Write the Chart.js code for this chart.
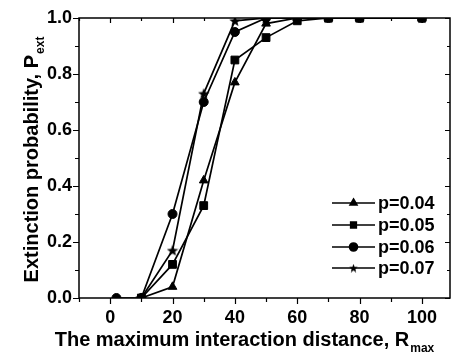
<!DOCTYPE html>
<html>
<head>
<meta charset="utf-8">
<script src="https://cdn.jsdelivr.net/npm/chart.js@4/dist/chart.umd.min.js"></script>
<style>
  html, body { margin: 0; padding: 0; background: #fff; }
  #wrap { width: 457px; height: 356px; }
</style>
</head>
<body>
<div id="wrap"><canvas id="chart"></canvas></div>
<script>
// data
let rValues = [10, 20, 30, 40, 50, 60, 70, 80, 100];
let rCircle = [2, 10, 20, 30, 40, 50, 60, 70, 80, 100];
let p004 = [0, 0.04, 0.42, 0.77, 0.98, 1.0, 1.0, 1.0, 1.0];
let p005 = [0, 0.12, 0.33, 0.85, 0.93, 0.99, 1.0, 1.0, 1.0];
let p006 = [0, 0, 0.30, 0.70, 0.95, 1.0, 1.0, 1.0, 1.0, 1.0];
let p007 = [0, 0.17, 0.73, 0.99, 1.0, 1.0, 1.0, 1.0, 1.0];
let labels = ['p=0.04', 'p=0.05', 'p=0.06', 'p=0.07'];

let xTicks = [0, 20, 40, 60, 80, 100];
let xMinor = [-10, 10, 30, 50, 70, 90];
let yTicks = [0, 0.2, 0.4, 0.6, 0.8, 1.0];
let yMinor = [0.1, 0.3, 0.5, 0.7, 0.9];

const FONT = "'Liberation Sans', Arial, sans-serif";

// filled five point star for p=0.07
function makeStar(size) {
  let c = document.createElement('canvas');
  c.width = size; c.height = size;
  let g = c.getContext('2d');
  let cx = size / 2, cy = size / 2 + 0.5, ro = size / 2, ri = size / 4.6;
  g.beginPath();
  for (let i = 0; i < 10; i++) {
    let r = i % 2 ? ri : ro;
    let a = -Math.PI / 2 + i * Math.PI / 5;
    g.lineTo(cx + r * Math.cos(a), cy + r * Math.sin(a));
  }
  g.closePath();
  g.fillStyle = '#000';
  g.fill();
  return c;
}
let starBig = makeStar(12);
let starSmall = makeStar(9);

function pairs(xs, ys) {
  return xs.map((x, i) => ({x: x, y: ys[i]}));
}

function series(label, xs, ys, style, radius, order) {
  return {
    label: label,
    data: pairs(xs, ys),
    borderColor: '#000',
    backgroundColor: '#000',
    borderWidth: 1.7,
    pointStyle: style,
    pointRadius: radius,
    pointBorderWidth: 1,
    pointBackgroundColor: '#000',
    pointBorderColor: '#000',
    tension: 0,
    order: order
  };
}

function drawSub(ctx, main, sub, x, y, size) {
  ctx.font = 'bold ' + size + 'px ' + FONT;
  let w1 = ctx.measureText(main).width;
  ctx.font = 'bold ' + Math.round(size * 0.6) + 'px ' + FONT;
  let w2 = ctx.measureText(sub).width;
  let start = x - (w1 + w2) / 2;
  ctx.textAlign = 'left';
  ctx.textBaseline = 'alphabetic';
  ctx.font = 'bold ' + size + 'px ' + FONT;
  ctx.fillText(main, start, y);
  ctx.font = 'bold ' + Math.round(size * 0.6) + 'px ' + FONT;
  ctx.fillText(sub, start + w1 + 1, y + size * 0.3);
}

let framePlugin = {
  id: 'frame',
  beforeDatasetsDraw(chart) {
    let ctx = chart.ctx;
    let a = chart.chartArea;
    let xs = chart.scales.x, ys = chart.scales.y;
    ctx.save();
    ctx.strokeStyle = '#000';
    ctx.lineWidth = 1.5;
    ctx.strokeRect(a.left, a.top, a.right - a.left, a.bottom - a.top);
    ctx.lineWidth = 1.2;
    ctx.beginPath();
    xTicks.concat(xMinor).forEach(v => {
      let px = Math.round(xs.getPixelForValue(v)) + 0.5;
      let len = xTicks.includes(v) ? 6 : 4;
      ctx.moveTo(px, a.bottom); ctx.lineTo(px, a.bottom + len);
      ctx.moveTo(px, a.top); ctx.lineTo(px, a.top + len - 1);
    });
    yTicks.concat(yMinor).forEach(v => {
      let py = Math.round(ys.getPixelForValue(v)) + 0.5;
      let len = yTicks.includes(v) ? 6 : 4;
      ctx.moveTo(a.left, py); ctx.lineTo(a.left - len, py);
      ctx.moveTo(a.right, py); ctx.lineTo(a.right - len + 1, py);
    });
    ctx.stroke();
    ctx.restore();
  },
  afterDraw(chart) {
    let ctx = chart.ctx;
    ctx.save();
    ctx.fillStyle = '#000';
    // axis titles
    drawSub(ctx, 'The maximum interaction distance, R', 'max', 244, 346, 20);
    ctx.translate(38, 160);
    ctx.rotate(-Math.PI / 2);
    drawSub(ctx, 'Extinction probability, P', 'ext', 0, 0, 20);
    ctx.restore();

    // legend: line with marker, then label
    ctx.save();
    ctx.strokeStyle = '#000';
    ctx.fillStyle = '#000';
    let rows = [203, 225, 247, 268];
    chart.data.datasets.forEach((ds, i) => {
      let y = rows[i];
      ctx.lineWidth = 1.6;
      ctx.beginPath();
      ctx.moveTo(332, y); ctx.lineTo(375, y);
      ctx.stroke();
      let style = ds.pointStyle === starBig ? starSmall : ds.pointStyle;
      Chart.helpers.drawPoint(ctx, {pointStyle: style, radius: 4, rotation: 0, borderWidth: 1}, 353.5, y);
      ctx.font = 'bold 18px ' + FONT;
      ctx.textAlign = 'left';
      ctx.textBaseline = 'middle';
      ctx.fillText(ds.label, 378, y + 1);
    });
    ctx.restore();
  }
};

new Chart(document.getElementById('chart'), {
  type: 'line',
  data: {
    datasets: [
      series(labels[0], rValues, p004, 'triangle', 5, 1),
      series(labels[1], rValues, p005, 'rect', 5.5, 0),
      series(labels[2], rCircle, p006, 'circle', 4.5, 1),
      series(labels[3], rValues, p007, starBig, 6, 1)
    ]
  },
  options: {
    responsive: true,
    maintainAspectRatio: false,
    animation: false,
    layout: { padding: { top: 18, right: 1, left: 0, bottom: 0 } },
    plugins: { legend: { display: false }, tooltip: { enabled: false } },
    scales: {
      x: {
        type: 'linear',
        min: -10,
        max: 109,
        afterBuildTicks: s => { s.ticks = xTicks.map(v => ({value: v})); },
        afterFit: s => { s.height = 58; },
        grid: { display: false, drawTicks: true, tickLength: 6 },
        border: { display: false },
        ticks: { color: '#000', padding: 3, maxRotation: 0, font: { family: FONT, weight: 'bold', size: 18 } }
      },
      y: {
        type: 'linear',
        min: 0,
        max: 1,
        afterBuildTicks: s => { s.ticks = yTicks.map(v => ({value: v})); },
        afterFit: s => { s.width = 79; },
        grid: { display: false, drawTicks: true, tickLength: 5 },
        border: { display: false },
        ticks: { color: '#000', padding: 2, font: { family: FONT, weight: 'bold', size: 18 },
          callback: v => v.toFixed(1) }
      }
    }
  },
  plugins: [framePlugin]
});
</script>
</body>
</html>
